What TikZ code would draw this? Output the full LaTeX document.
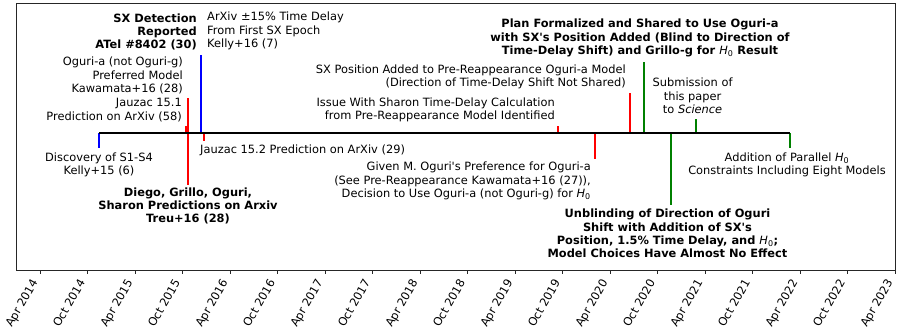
\documentclass[tikz,border=0pt]{standalone}
\usepackage{fontspec}
\setmainfont{DejaVu Sans}
\newcommand{\Hnull}{{\normalfont\itshape H}\textsubscript{\normalfont 0}}
\newcommand{\sq}{\textquotesingle}

\begin{document}
\begin{tikzpicture}[x=1pt,y=-1pt,
    txt/.style={inner sep=0pt,font=\fontsize{11.4}{13.3}\selectfont},
    btxt/.style={inner sep=0pt,font=\fontsize{11.4}{13.3}\selectfont\bfseries},
    redstem/.style={draw=red,line width=1.8pt},
    bluestem/.style={draw=blue,line width=1.8pt},
    greenstem/.style={draw=green!50!black,line width=1.8pt},
    frame/.style={draw=black!85,line width=0.8pt}]
  \useasboundingbox (0,0) rectangle (899,333);

  % axes box and date ticks
  \draw[frame] (16,3) rectangle (895,270);
  \foreach \lab [count=\i from 0] in {Apr 2014,Oct 2014,Apr 2015,Oct 2015,Apr 2016,Oct 2016,Apr 2017,Oct 2017,Apr 2018,Oct 2018,Apr 2019,Oct 2019,Apr 2020,Oct 2020,Apr 2021,Oct 2021,Apr 2022,Oct 2022,Apr 2023} {
    \coordinate (tk\i) at ({40+47.5*\i},270);
    \draw[frame] (tk\i) -- ++(0,4);
    \node[txt,rotate=60,anchor=north east] (tl\i) at ({30.7+47.5*\i},278) {\lab};
  }

  % stem end points
  \coordinate (disc0) at (99,133);    \coordinate (disc1) at (99,148);
  \coordinate (kawa0) at (185.7,133); \coordinate (kawa1) at (185.7,126);
  \coordinate (jzA0) at (187.7,133);  \coordinate (jzA1) at (187.7,98);
  \coordinate (treu0) at (187.7,133); \coordinate (treu1) at (187.7,185);
  \coordinate (sx0) at (201,133);     \coordinate (sx1) at (201,55);
  \coordinate (jzB0) at (203.7,133);  \coordinate (jzB1) at (203.7,141);
  \coordinate (shar0) at (558,133);   \coordinate (shar1) at (558,126);
  \coordinate (pref0) at (595,133);   \coordinate (pref1) at (595,159);
  \coordinate (pos0) at (630,133);    \coordinate (pos1) at (630,93);
  \coordinate (plan0) at (643.7,133); \coordinate (plan1) at (643.7,62);
  \coordinate (unbl0) at (671,133);   \coordinate (unbl1) at (671,205);
  \coordinate (subm0) at (695.7,133); \coordinate (subm1) at (695.7,119);
  \coordinate (para0) at (790,133);   \coordinate (para1) at (790,148);

  \draw[bluestem] (disc0) -- (disc1);
  \draw[redstem] (kawa0) -- (kawa1);
  \draw[redstem] (jzA0) -- (jzA1);
  \draw[redstem] (treu0) -- (treu1);
  \draw[bluestem] (sx0) -- (sx1);
  \draw[redstem] (jzB0) -- (jzB1);
  \draw[redstem] (shar0) -- (shar1);
  \draw[redstem] (pref0) -- (pref1);
  \draw[redstem] (pos0) -- (pos1);
  \draw[greenstem] (plan0) -- (plan1);
  \draw[greenstem] (unbl0) -- (unbl1);
  \draw[greenstem] (subm0) -- (subm1);
  \draw[greenstem] (para0) -- (para1);

  % timeline
  \draw[line width=2pt] (disc0) -- (para0);

  % labels
  \node[txt,align=center] (discl) at (99,164.5) {Discovery of S1-S4\\Kelly+15 (6)};
  \node[txt,align=right,anchor=east] (jzAl) at (182,110) {Jauzac 15.1\\Prediction on ArXiv (58)};
  \node[txt,align=right,anchor=east] (kawal) at (183,75.5) {Oguri-a (not Oguri-g)\\Preferred Model\\Kawamata+16 (28)};
  \node[btxt,align=right,anchor=east] (sxl) at (197,32) {SX Detection\\Reported\\ATel \#8402 (30)};
  \node[txt,align=left,anchor=west] (arxl) at (207,31) {ArXiv ±15\% Time Delay\\From First SX Epoch\\Kelly+16 (7)};
  \node[txt,anchor=west] (jzBl) at (200,150) {Jauzac 15.2 Prediction on ArXiv (29)};
  \node[btxt,align=center] (treul) at (188,206) {Diego, Grillo, Oguri,\\Sharon Predictions on Arxiv\\Treu+16 (28)};
  \node[txt,align=right,anchor=east] (sharl) at (555,110) {Issue With Sharon Time-Delay Calculation\\from Pre-Reappearance Model Identified};
  \node[txt,align=right,anchor=east] (posl) at (626,77) {SX Position Added to Pre-Reappearance Oguri-a Model\\(Direction of Time-Delay Shift Not Shared)};
  \node[btxt,align=center] (planl) at (640,38) {Plan Formalized and Shared to Use Oguri-a\\with SX\sq s Position Added (Blind to Direction of\\Time-Delay Shift) and Grillo-g for \Hnull{} Result};
  \node[txt,align=right,anchor=east] (prefl) at (591,181) {Given M. Oguri\sq s Preference for Oguri-a\\(See Pre-Reappearance Kawamata+16 (27)),\\Decision to Use Oguri-a (not Oguri-g) for \Hnull};
  \node[btxt,align=center] (unbll) at (667.5,233.5) {Unblinding of Direction of Oguri\\Shift with Addition of SX\sq s\\Position, 1.5\% Time Delay, and \Hnull;\\Model Choices Have Almost No Effect};
  \node[txt,align=center] (subml) at (692.6,96) {Submission of\\this paper\\to \textit{Science}};
  \node[txt,align=center] (paral) at (787,164.5) {Addition of Parallel \Hnull\\Constraints Including Eight Models};
\end{tikzpicture}
\end{document}
